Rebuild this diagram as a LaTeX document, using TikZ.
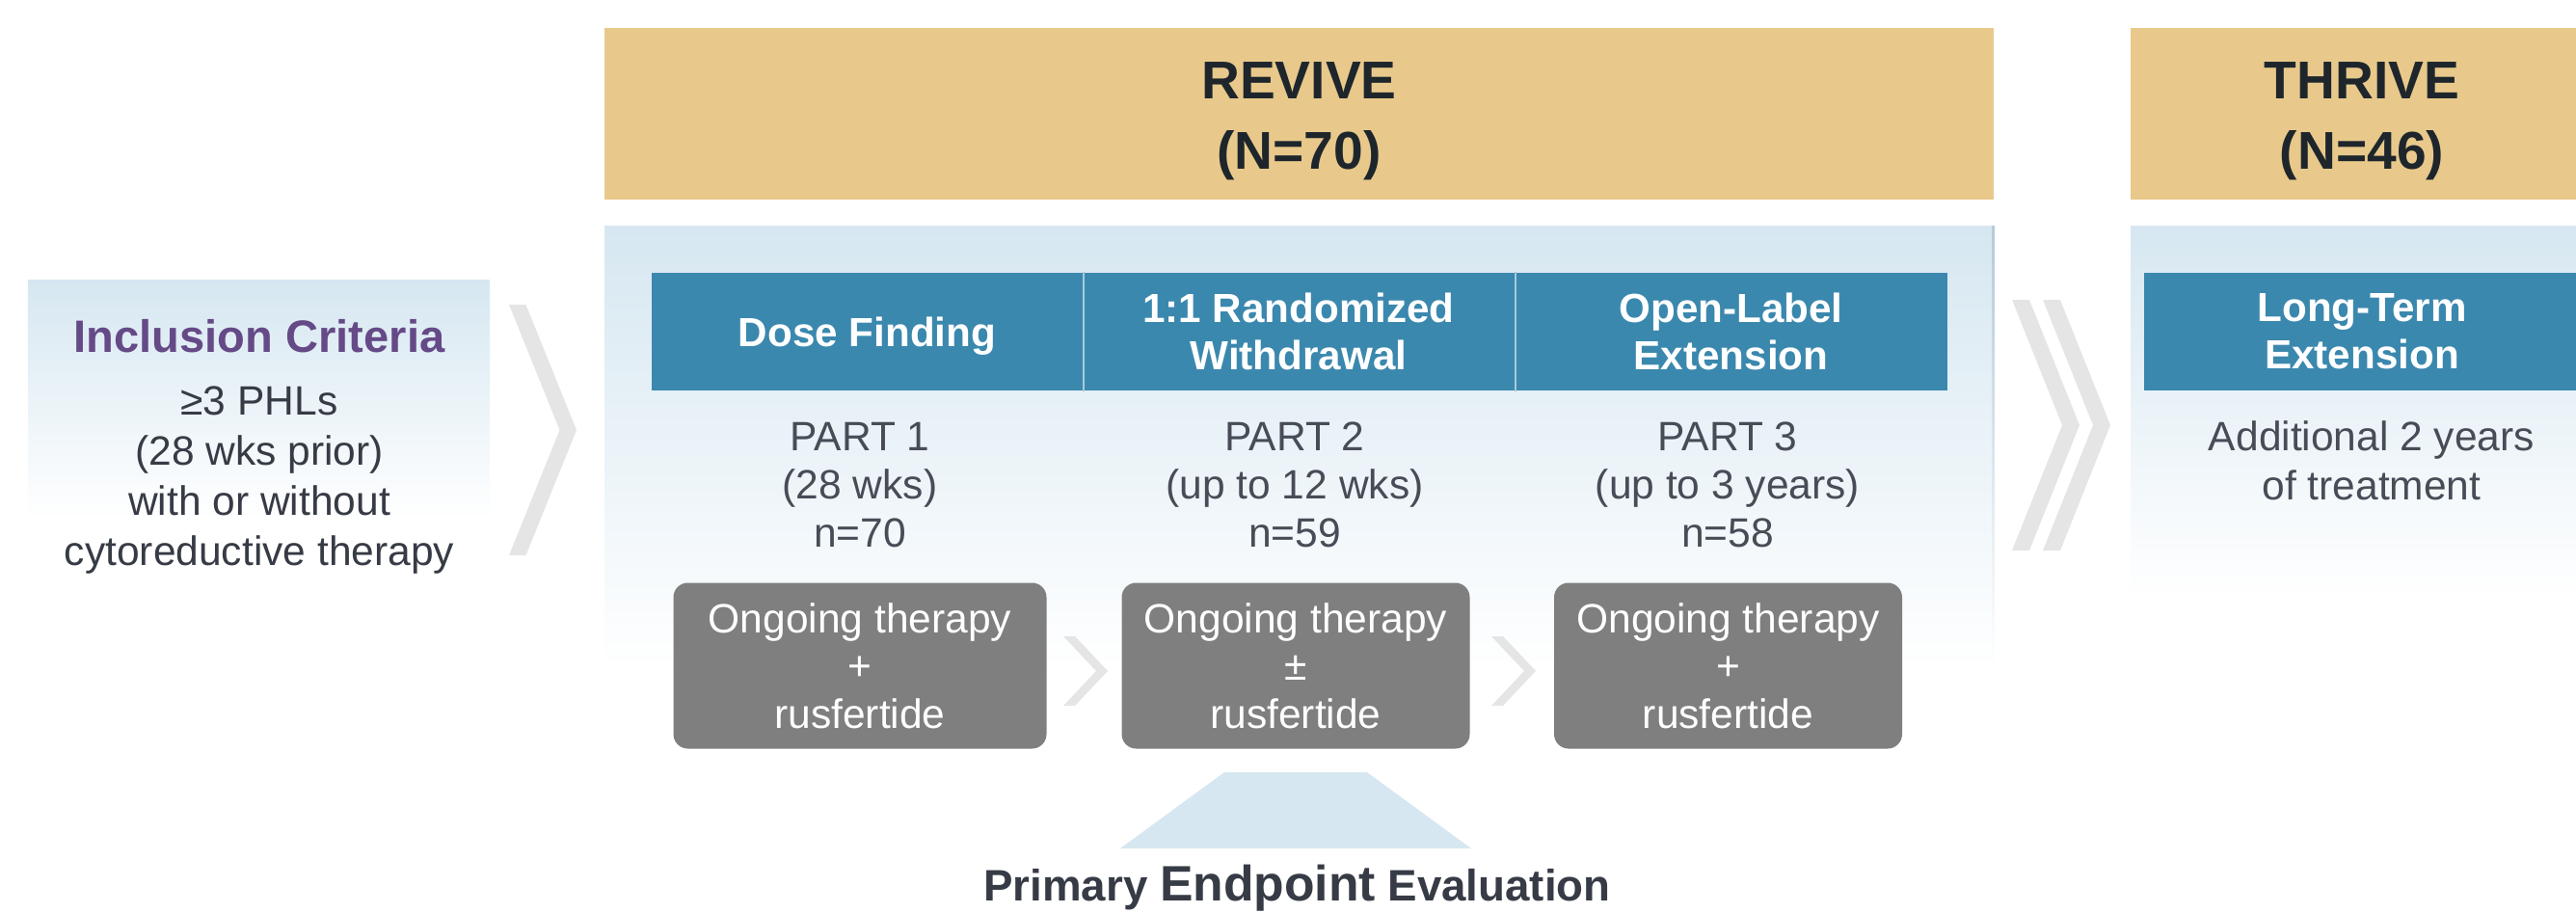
\documentclass[tikz,border=0pt]{standalone}
\usepackage{fontspec}
\setmainfont{Liberation Sans}
\usepackage{tikz}
\usetikzlibrary{calc}

\definecolor{studytan}{HTML}{E8C98B}
\definecolor{cellblue}{HTML}{3B88AE}
\definecolor{therapygray}{HTML}{7F7F7F}
\definecolor{panelblue}{HTML}{D6E7F1}
\definecolor{edgeblue}{HTML}{B5CAD8}
\definecolor{chevgray}{HTML}{E5E5E5}
\definecolor{titleink}{HTML}{1E262C}
\definecolor{bodyink}{HTML}{363B45}
\definecolor{partink}{HTML}{474C57}
\definecolor{critpurple}{HTML}{654A87}

% chevron: (left edge, middle)(width:half height:stroke)
\def\chevron[#1](#2)(#3:#4:#5){\fill[#1] (#2) ++(0, #4) -- ++(#5, 0) -- ++(#3-#5, -#4) -- ++(#5-#3, -#4) -- ++(-#5, 0) -- ++(#3-#5, #4) -- cycle;}

\tikzset{
	studytext/.style={text=titleink, align=center, inner sep=0pt, font=\fontsize{15.7}{20.8}\selectfont\bfseries},
	cellbox/.style={fill=cellblue, text=white, align=center, inner sep=0pt, minimum height=1.22cm, font=\fontsize{12}{13.9}\selectfont\bfseries},
	therapybox/.style={fill=therapygray, text=white, align=center, inner sep=0pt, minimum height=1.72cm, rounded corners=0.15cm, font=\fontsize{12.1}{14.1}\selectfont},
	parttext/.style={text=partink, align=center, inner sep=0pt, font=\fontsize{12.1}{14.3}\selectfont},
	divider/.style={draw=white!55!cellblue, line width=0.5pt}
}

\begin{document}
\begin{tikzpicture}
			%%%%% START %%%%%
			
			\useasboundingbox (0, 0) rectangle (26.72, -9.46);
			\clip (0, 0) rectangle (26.72, -9.46);
			
			% study banners
			\fill[studytan] (6.27, -0.29) rectangle (20.68, -2.07);
			\fill[studytan] (22.10, -0.29) rectangle (26.90, -2.07);
			\node[studytext] (revive) at (13.475, -1.26) {REVIVE\\(N=70)};
			\node[studytext] (thrive) at (24.50, -1.26) {THRIVE\\(N=46)};
			
			% fading panels
			\shade[top color=panelblue, bottom color=white] (0.29, -2.90) rectangle (5.08, -5.40);
			\shade[top color=panelblue, bottom color=white] (6.27, -2.34) rectangle (20.68, -6.95);
			\shade[top color=edgeblue, bottom color=white] (20.665, -2.34) rectangle (20.69, -6.95);
			\shade[top color=panelblue, bottom color=white] (22.10, -2.34) rectangle (26.90, -6.20);
			
			% inclusion criteria
			\node[text=critpurple, inner sep=0pt, font=\fontsize{13.4}{15}\selectfont\bfseries] (inchead) at (2.69, -3.49) {Inclusion Criteria};
			\node[text=bodyink, align=center, inner sep=0pt, font=\fontsize{12.1}{14.8}\selectfont] (inclist) at (2.69, -4.985) {≥3 PHLs\\(28 wks prior)\\with or without\\cytoreductive therapy};
			
			\chevron[fill=chevgray](5.28, -4.46)(0.70:1.30:0.175)
			
			% parts of REVIVE
			\node[cellbox, minimum width=4.48cm, text height=8.6pt, text depth=0pt] (dose) at (8.995, -3.44) {Dose Finding};
			\node[cellbox, minimum width=4.48cm] (rand) at (13.47, -3.44) {1:1 Randomized\\Withdrawal};
			\node[cellbox, minimum width=4.48cm] (ole) at (17.955, -3.44) {Open-Label\\Extension};
			\draw[divider] (dose.north east) -- (dose.south east);
			\draw[divider] (rand.north east) -- (rand.south east);
			
			\node[parttext] (part1) at (8.92, -5.03) {PART 1\\(28 wks)\\n=70};
			\node[parttext] (part2) at (13.43, -5.03) {PART 2\\(up to 12 wks)\\n=59};
			\node[parttext] (part3) at (17.92, -5.03) {PART 3\\(up to 3 years)\\n=58};
			
			\node[therapybox, minimum width=3.87cm] (ther1) at (8.92, -6.905) {Ongoing therapy\\+\\rusfertide};
			\node[therapybox, minimum width=3.61cm] (ther2) at (13.44, -6.905) {Ongoing therapy\\±\\rusfertide};
			\node[therapybox, minimum width=3.61cm] (ther3) at (17.925, -6.905) {Ongoing therapy\\+\\rusfertide};
			
			\chevron[fill=chevgray](11.03, -6.96)(0.46:0.36:0.12)
			\chevron[fill=chevgray](15.47, -6.96)(0.46:0.36:0.12)
			
			% on to THRIVE
			\chevron[fill=chevgray](20.87, -4.41)(0.70:1.30:0.18)
			\chevron[fill=chevgray](21.19, -4.41)(0.70:1.30:0.18)
			
			\node[cellbox, minimum width=4.52cm] (lte) at (24.50, -3.44) {Long-Term\\Extension};
			\node[parttext, font=\fontsize{12.1}{14.5}\selectfont] (addyears) at (24.60, -4.78) {Additional 2 years\\of treatment};
			
			% primary endpoint
			\fill[panelblue] (11.62, -8.80) -- (12.70, -8.01) -- (14.18, -8.01) -- (15.26, -8.80) -- cycle;
			\node[text=bodyink, inner sep=0pt, font=\fontsize{13}{14}\selectfont\bfseries] (endpoint) at (13.455, -9.215) {Primary {\fontsize{14.7}{16}\selectfont Endpoint} Evaluation};
			
			%%%%% END %%%%%
\end{tikzpicture}
\end{document}
